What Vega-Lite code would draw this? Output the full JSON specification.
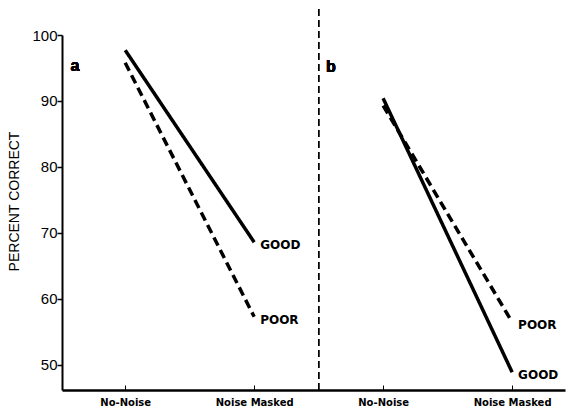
{
  "$schema": "https://vega.github.io/schema/vega-lite/v6.json",
  "width": 503,
  "height": 355,
  "autosize": {"type": "none"},
  "padding": {"left": 62, "top": 35, "right": 5, "bottom": 20},
  "background": "white",
  "config": {"view": {"stroke": null}},
  "data": {
    "values": [
      {"panel": "a", "group": "GOOD", "condition": "No-Noise", "pos": 1, "pct": 97.7},
      {"panel": "a", "group": "GOOD", "condition": "Noise Masked", "pos": 2, "pct": 68.6},
      {"panel": "a", "group": "POOR", "condition": "No-Noise", "pos": 1, "pct": 95.8},
      {"panel": "a", "group": "POOR", "condition": "Noise Masked", "pos": 2, "pct": 57.3},
      {"panel": "b", "group": "GOOD", "condition": "No-Noise", "pos": 3, "pct": 90.4},
      {"panel": "b", "group": "GOOD", "condition": "Noise Masked", "pos": 4, "pct": 48.9},
      {"panel": "b", "group": "POOR", "condition": "No-Noise", "pos": 3, "pct": 89.3},
      {"panel": "b", "group": "POOR", "condition": "Noise Masked", "pos": 4, "pct": 56.5}
    ]
  },
  "layer": [
    {
      "mark": {"type": "rule", "strokeDash": [7, 4], "strokeWidth": 1, "color": "black", "clip": false},
      "encoding": {
        "x": {"datum": 2.5, "type": "quantitative"},
        "y": {"datum": 46.2, "type": "quantitative"},
        "y2": {"datum": 104}
      }
    },
    {
      "mark": {"type": "line", "color": "black", "strokeWidth": 3.5, "strokeCap": "butt"},
      "encoding": {
        "x": {
          "field": "pos",
          "type": "quantitative",
          "scale": {"domain": [0.51, 4.41], "nice": false, "zero": false},
          "axis": {
            "title": null,
            "values": [1, 2, 3, 4],
            "labelExpr": "datum.value % 2 == 1 ? 'No-Noise' : 'Noise Masked'",
            "labelFont": "DejaVu Sans",
            "labelFontWeight": "bold",
            "labelFontSize": 10,
            "labelColor": "black",
            "labelPadding": 12,
            "tickSize": -5,
            "tickColor": "black",
            "tickWidth": 1,
            "domainColor": "black",
            "domainWidth": 2.5,
            "grid": false
          }
        },
        "y": {
          "field": "pct",
          "type": "quantitative",
          "scale": {"domain": [46.2, 100], "nice": false, "zero": false},
          "axis": {
            "title": "PERCENT CORRECT",
            "titleFont": "Liberation Sans",
            "titleFontWeight": "normal",
            "titleFontSize": 14,
            "titleColor": "black",
            "titlePadding": 10,
            "titleY": 166,
            "values": [50, 60, 70, 80, 90, 100],
            "labelFont": "Liberation Sans",
            "labelFontSize": 15,
            "labelColor": "black",
            "labelPadding": 0,
            "tickSize": 5,
            "tickColor": "black",
            "tickWidth": 1.5,
            "domainColor": "black",
            "domainWidth": 2,
            "grid": false
          }
        },
        "detail": {"field": "panel"},
        "strokeDash": {
          "field": "group",
          "type": "nominal",
          "scale": {"domain": ["GOOD", "POOR"], "range": [[1, 0], [9, 5]]},
          "legend": null
        }
      }
    },
    {
      "transform": [{"filter": "datum.condition == 'Noise Masked'"}],
      "mark": {"type": "text", "align": "left", "baseline": "middle", "dx": 6, "dy": 3, "font": "DejaVu Sans", "fontWeight": "bold", "fontSize": 12, "color": "black"},
      "encoding": {
        "x": {"field": "pos", "type": "quantitative"},
        "y": {"field": "pct", "type": "quantitative"},
        "text": {"field": "group"}
      }
    },
    {
      "mark": {"type": "text", "align": "center", "baseline": "middle", "font": "Liberation Sans", "fontWeight": "bold", "fontSize": 16, "color": "black"},
      "encoding": {
        "x": {"datum": 0.61, "type": "quantitative"},
        "y": {"datum": 95.3, "type": "quantitative"},
        "text": {"value": "a"}
      }
    },
    {
      "mark": {"type": "text", "align": "center", "baseline": "middle", "font": "Liberation Sans", "fontWeight": "bold", "fontSize": 16, "color": "black"},
      "encoding": {
        "x": {"datum": 2.595, "type": "quantitative"},
        "y": {"datum": 95.2, "type": "quantitative"},
        "text": {"value": "b"}
      }
    }
  ]
}
